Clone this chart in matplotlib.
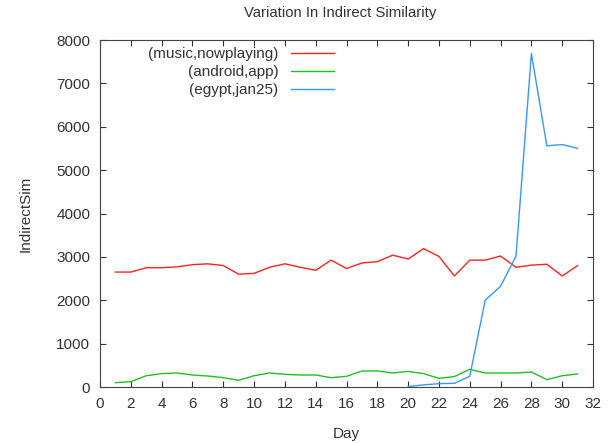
import numpy as np
import matplotlib
matplotlib.use("Agg")
import matplotlib.pyplot as plt

plt.rcParams['font.family'] = ['Liberation Sans', 'DejaVu Sans']

# Daily indirect similarity for three tag pairs
days = list(range(1, 32))
music_nowplaying = [2650, 2650, 2750, 2750, 2770, 2820, 2840, 2800, 2600, 2620,
                    2760, 2840, 2760, 2690, 2925, 2730, 2860, 2890, 3040, 2950,
                    3190, 3010, 2560, 2925, 2925, 3020, 2760, 2810, 2830, 2560,
                    2800]
android_app = [100, 123, 260, 308, 323, 277, 254, 215, 154, 260,
               323, 292, 277, 277, 215, 246, 370, 370, 323, 360,
               308, 200, 240, 408, 323, 323, 323, 346, 170, 260,
               300]
egypt_days = list(range(20, 32))
egypt_jan25 = [10, 50, 77, 85, 246, 2000, 2323, 3015, 7690, 5560, 5590, 5500]

fig = plt.figure(figsize=(6.12, 4.43), dpi=100)
ax = fig.add_axes([0.1634, 0.1264, 0.8056, 0.7833])

ax.plot(days, music_nowplaying, color='#ff2020', lw=1.0, label='(music,nowplaying)')
ax.plot(days, android_app, color='#20c020', lw=1.0, label='(android,app)')
ax.plot(egypt_days, egypt_jan25, color='#3399ff', lw=1.0, label='(egypt,jan25)')

ax.set_xlim(0, 32)
ax.set_ylim(0, 8000)
ax.set_xticks(np.arange(0, 33, 2))
ax.set_yticks(np.arange(0, 8001, 1000))
ax.tick_params(direction='in', top=True, right=True, length=4, labelsize=11,
               colors='#333333', pad=7)
for s in ax.spines.values():
    s.set_color('#444444')

ax.set_title('Variation In Indirect Similarity', fontsize=10.7, color='#333333',
             pad=16.5, x=0.488)
ax.set_xlabel('Day', fontsize=11, color='#333333', labelpad=12)
ax.set_ylabel('IndirectSim', fontsize=11, color='#333333', labelpad=17)

leg = ax.legend(loc='upper right', bbox_to_anchor=(0.475, 0.979), frameon=False,
                markerfirst=False, fontsize=11, handlelength=2.8,
                handletextpad=0.85, labelspacing=0.25, borderaxespad=0,
                borderpad=0)
for t in leg.get_texts():
    t.set_color('#333333')

fig.savefig('out.png', dpi=100)
